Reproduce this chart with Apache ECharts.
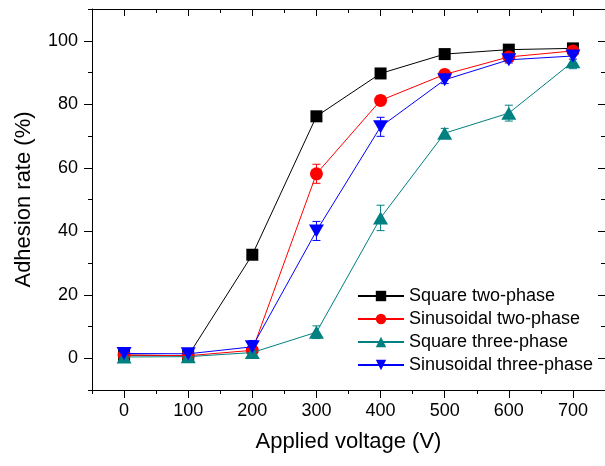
<!DOCTYPE html>
<html>
<head>
<meta charset="utf-8">
<script src="https://cdn.jsdelivr.net/npm/echarts@6/dist/echarts.min.js"></script>
<style>
html,body{margin:0;padding:0;background:#fff;}
#chart{width:605px;height:466px;}
</style>
</head>
<body>
<div id="chart"></div>
<script>
// ---- data ----
const voltages = [0, 100, 200, 300, 400, 500, 600, 700];
const xTickLabels = [0, 100, 200, 300, 400, 500, 600, 700];
const yTickLabels = [0, 20, 40, 60, 80, 100];

const squareTwo = [1.0, 0.8, 32.6, 76.2, 89.7, 95.8, 97.2, 97.6];
const squareTwoErr = [0.5, 0.5, 0.8, 1.5, 1.0, 0.8, 0.6, 0.6];

const sinTwo = [1.0, 0.8, 2.5, 58.1, 81.2, 89.4, 94.9, 96.8];
const sinTwoErr = [0.5, 0.8, 1.0, 3.0, 1.5, 1.2, 1.0, 1.5];

const squareThree = [0.4, 0.5, 1.8, 8.2, 44.2, 70.9, 77.2, 93.4];
const squareThreeErr = [0.8, 0.6, 1.5, 2.0, 4.0, 1.5, 2.5, 2.2];

const sinThree = [1.5, 1.4, 3.6, 40.1, 72.9, 87.7, 94.0, 95.2];
const sinThreeErr = [1.5, 1.5, 2.0, 3.0, 3.0, 1.2, 1.0, 1.0];

const seriesNames = ['Square two-phase', 'Sinusoidal two-phase', 'Square three-phase', 'Sinusoidal three-phase'];
const seriesColors = ['#000000', '#ff0000', '#008080', '#0000ff'];

// ---- chart ----
const FONT = 'Liberation Sans, Arial, Helvetica, sans-serif';
const chart = echarts.init(document.getElementById('chart'), null, {renderer: 'canvas'});

function pairs(vals) { return voltages.map((x, i) => [x, vals[i]]); }
function errPairs(vals, errs) { return voltages.map((x, i) => [x, vals[i] - errs[i], vals[i] + errs[i]]); }

function errSeries(vals, errs, color) {
  return {
    type: 'custom',
    xAxisIndex: 0, yAxisIndex: 0,
    silent: true,
    z: 1,
    data: errPairs(vals, errs),
    encode: {x: 0, y: [1, 2]},
    renderItem: function (params, api) {
      const x = api.value(0);
      const lo = api.coord([x, api.value(1)]);
      const hi = api.coord([x, api.value(2)]);
      const hw = 4;
      const st = {stroke: color, lineWidth: 1, fill: null};
      return {
        type: 'group',
        children: [
          {type: 'line', shape: {x1: lo[0], y1: lo[1], x2: hi[0], y2: hi[1]}, style: st},
          {type: 'line', shape: {x1: lo[0] - hw, y1: lo[1], x2: lo[0] + hw, y2: lo[1]}, style: st},
          {type: 'line', shape: {x1: hi[0] - hw, y1: hi[1], x2: hi[0] + hw, y2: hi[1]}, style: st}
        ]
      };
    }
  };
}

function lineSeries(name, vals, color, symbol, size, rotate, z) {
  return {
    name: name,
    type: 'line',
    xAxisIndex: 0, yAxisIndex: 0,
    data: pairs(vals),
    symbol: symbol,
    symbolSize: size,
    symbolRotate: rotate,
    showAllSymbol: true,
    z: z,
    lineStyle: {color: color, width: 1},
    itemStyle: {color: color, borderWidth: 0},
    emphasis: {disabled: true},
    animation: false
  };
}

const xMajor = xTickLabels;
const xMinor = [-50, 50, 150, 250, 350, 450, 550, 650, 750];
const yMajor = yTickLabels;
const yMinor = [-10, 10, 30, 50, 70, 90, 110];

function xAx(pos, ticks, len, inside, labels, showLine) {
  return {
    type: 'value', position: pos, min: -50, max: 750,
    axisLine: {show: showLine, onZero: false, lineStyle: {color: '#000', width: 1}},
    axisTick: {show: true, inside: inside, length: len, customValues: ticks, lineStyle: {color: '#000', width: 1}},
    axisLabel: labels ? {show: true, customValues: labels, margin: 12, color: '#000', fontSize: 18, fontFamily: FONT} : {show: false},
    splitLine: {show: false}
  };
}
function yAx(pos, ticks, len, inside, labels, showLine) {
  return {
    type: 'value', position: pos, min: -10, max: 110, offset: 0,
    axisLine: {show: showLine, onZero: false, lineStyle: {color: '#000', width: 1}},
    axisTick: {show: true, inside: inside, length: len, customValues: ticks, lineStyle: {color: '#000', width: 1}},
    axisLabel: labels ? {show: true, customValues: labels, margin: 14, color: '#000', fontSize: 18, fontFamily: FONT} : {show: false},
    splitLine: {show: false}
  };
}

const xAxes = [
  xAx('bottom', xMajor, 8, false, xTickLabels, true),
  xAx('bottom', xMinor, 4, false, null, false),
  xAx('top', xMajor, 7, true, null, true),
  xAx('top', xMinor, 4, true, null, false)
];
xAxes[0].name = 'Applied voltage (V)';
xAxes[0].nameLocation = 'middle';
xAxes[0].nameGap = 41;
xAxes[0].nameTextStyle = {color: '#000', fontSize: 22, fontFamily: FONT};

const yAxes = [
  yAx('left', yMajor, 8, false, yTickLabels, true),
  yAx('left', yMinor, 4, false, null, false),
  yAx('right', yMajor, 7, true, null, true),
  yAx('right', yMinor, 4, true, null, false)
];
yAxes[0].name = 'Adhesion rate (%)';
yAxes[0].nameLocation = 'middle';
yAxes[0].nameGap = 57;
yAxes[0].nameTextStyle = {color: '#000', fontSize: 22, fontFamily: FONT};

const option = {
  animation: false,
  backgroundColor: '#fff',
  grid: {left: 92, right: 0, top: 9, bottom: 76, containLabel: false},
  xAxis: xAxes,
  yAxis: yAxes,
  legend: {
    orient: 'vertical',
    left: 357, top: 287,
    padding: 0,
    itemWidth: 46, itemHeight: 13, itemGap: 5,
    textStyle: {color: '#000', fontSize: 18, fontFamily: FONT, padding: [0, 0, 0, 0]},
    data: seriesNames
  },
  series: [
    errSeries(squareTwo, squareTwoErr, seriesColors[0]),
    lineSeries(seriesNames[0], squareTwo, seriesColors[0], 'rect', 12, 0, 2),
    errSeries(sinTwo, sinTwoErr, seriesColors[1]),
    lineSeries(seriesNames[1], sinTwo, seriesColors[1], 'circle', 13, 0, 3),
    errSeries(squareThree, squareThreeErr, seriesColors[2]),
    lineSeries(seriesNames[2], squareThree, seriesColors[2], 'triangle', [15, 13], 0, 4),
    errSeries(sinThree, sinThreeErr, seriesColors[3]),
    lineSeries(seriesNames[3], sinThree, seriesColors[3], 'triangle', [15, 13], 180, 5)
  ]
};
chart.setOption(option);
</script>
</body>
</html>
